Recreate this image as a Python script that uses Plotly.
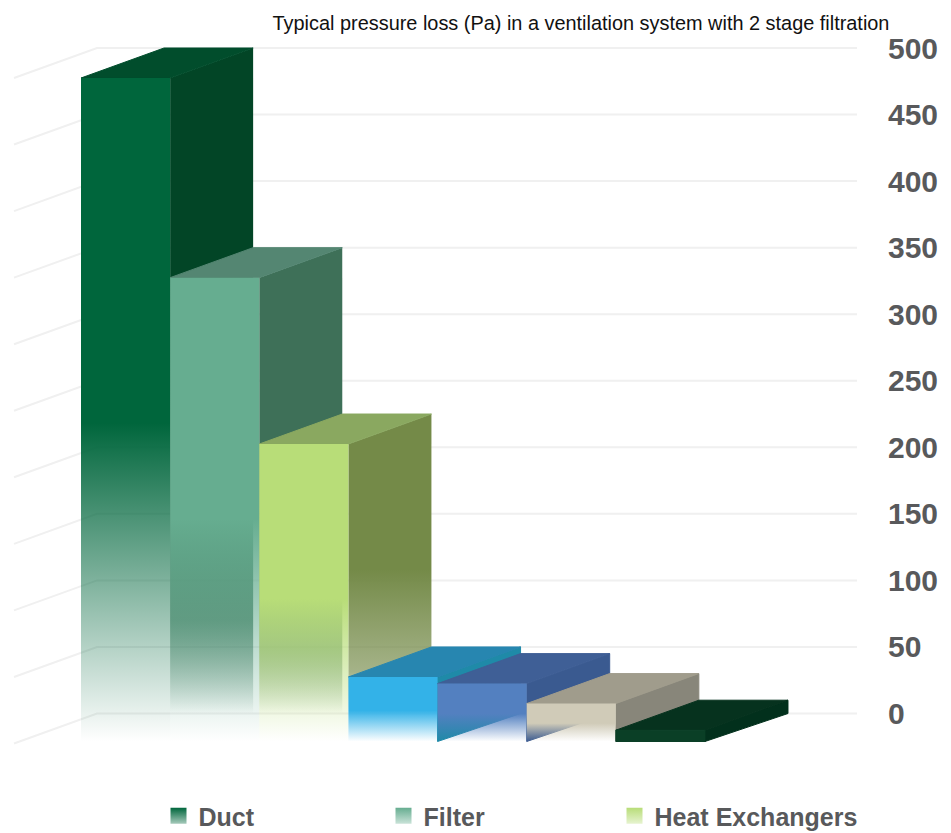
import plotly.graph_objects as go

# ---- data ----
VALUES = [500, 350, 225, 50, 45, 30, 10]
LEGEND_NAMES = ["Duct", "Filter", "Heat Exchangers"]
TICKS = [0, 50, 100, 150, 200, 250, 300, 350, 400, 450, 500]
TITLE = "Typical pressure loss (Pa) in a ventilation system with 2 stage filtration"
FRONT = ["#00663c", "#66ad90", "#b8dd78", "#33b2e8", "#5380c0", "#d0cbb8", "#0a3f26"]
TOP = ["#014d2c", "#548672", "#8aa860", "#2786b0", "#3f5f96", "#a09c8c", "#06321e"]
SIDE = ["#024526", "#3e7058", "#748a48", "#1f8aa8", "#3a5a90", "#88867a", "#02301c"]
FRONT_FADES = [True, True, True, True, True, True, False]
SIDE_FADES = [True, True, True, False, False, False, False]

# ---- layout constants ----
W, H = 951, 833
R_MARGIN = 64
PX_PER_CAT = 89.14
PX_PER_VAL = 1.331
X0_PX, Y0_PX = 81, 713.5
DX = 83 / PX_PER_CAT
DY = 30 / PX_PER_VAL
BASE = -DY + 2 / PX_PER_VAL
FADE = 0.48
GRID_L = (14 - X0_PX) / PX_PER_CAT
GRID_R = (857 - X0_PX) / PX_PER_CAT
PLOT_W = W - R_MARGIN
LEGEND_X_PX = [183.5, 408.5, 639.5]


def rgba(h, a):
    r, g, b = (int(h[i:i + 2], 16) for i in (1, 3, 5))
    return f"rgba({r},{g},{b},{a})"


def poly(xs, ys, color, stops=None, span=None):
    kw = dict(x=xs + xs[:1], y=ys + ys[:1], mode="lines",
              fill="toself", showlegend=False, hoverinfo="skip")
    if stops:
        kw["line"] = dict(width=0)
        kw["fillgradient"] = dict(
            type="vertical", start=span[0], stop=span[1],
            colorscale=[[p, rgba(color, a)] for p, a in stops])
    else:
        kw["line"] = dict(width=1, color=color)
        kw["fillcolor"] = color
    return go.Scatter(**kw)


FRONT_STOPS = [(0, 0), (FADE, 1), (1, 1)]
SIDE_STOPS = [(0, 0), (0.14, 0.65), (FADE, 1), (1, 1)]

fig = go.Figure()

for t in TICKS:
    fig.add_trace(go.Scatter(
        x=[GRID_L, GRID_L + DX, GRID_R], y=[t - DY, t, t], mode="lines",
        line=dict(color="#f0f0f0", width=2), showlegend=False, hoverinfo="skip"))

for i, v in enumerate(VALUES):
    top_f = v - DY
    side_x = [i + 1, i + 1 + DX, i + 1 + DX, i + 1]
    side_y = [BASE, 0, v, top_f]
    if SIDE_FADES[i]:
        fig.add_trace(poly(side_x, side_y, SIDE[i], SIDE_STOPS, (0, v)))
    else:
        fig.add_trace(poly(side_x, side_y, SIDE[i]))
    fig.add_trace(poly([i, i + DX, i + 1 + DX, i + 1], [top_f, v, v, top_f], TOP[i]))
    front_x = [i, i + 1, i + 1, i]
    front_y = [BASE, BASE, top_f, top_f]
    if FRONT_FADES[i]:
        fig.add_trace(poly(front_x, front_y, FRONT[i], FRONT_STOPS, (BASE, top_f)))
    else:
        fig.add_trace(poly(front_x, front_y, FRONT[i]))

legends = {}
for k, (name, c, lx) in enumerate(zip(LEGEND_NAMES, FRONT, LEGEND_X_PX)):
    key = "legend" if k == 0 else f"legend{k + 1}"
    fig.add_trace(go.Scatter(
        x=[None], y=[None], mode="markers", name=name, hoverinfo="skip", legend=key,
        marker=dict(symbol="square", size=17, color=c,
                    gradient=dict(type="vertical", color=rgba(c, 0.35)))))
    legends[key] = dict(orientation="h", x=(lx - 25) / PLOT_W, xanchor="left",
                        y=1 - 793 / H, yanchor="top", bgcolor="rgba(0,0,0,0)",
                        font=dict(family="Liberation Sans", size=25, color="#58595b", weight="bold"))

fig.update_layout(
    width=W, height=H, margin=dict(l=0, r=R_MARGIN, t=0, b=0, autoexpand=False),
    paper_bgcolor="white", plot_bgcolor="white",
    title=dict(text=TITLE, xref="container", yref="container", x=581 / W, xanchor="center",
               y=1 - 23 / H, yanchor="middle",
               font=dict(family="Liberation Sans", size=19.9, color="#111111")),
    xaxis=dict(visible=False, range=[-X0_PX / PX_PER_CAT, (PLOT_W - X0_PX) / PX_PER_CAT]),
    yaxis=dict(side="right", range=[(Y0_PX - H) / PX_PER_VAL, Y0_PX / PX_PER_VAL],
               tickvals=TICKS, ticktext=[str(t) for t in TICKS], showgrid=False, zeroline=False,
               showline=False, ticks="",
               tickfont=dict(family="Liberation Sans", size=30, color="#58595b", weight="bold")),
    **legends,
)

fig.write_html("out.html", config={"displayModeBar": False},
               post_script="document.body.style.margin='0';")
